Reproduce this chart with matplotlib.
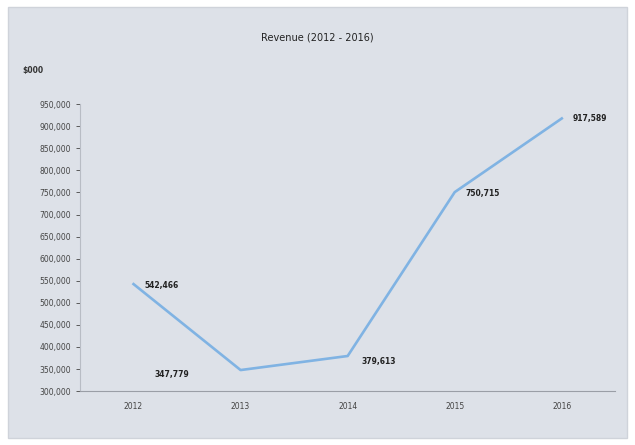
import matplotlib.pyplot as plt
from matplotlib.ticker import FuncFormatter, MultipleLocator

years = ['2012', '2013', '2014', '2015', '2016']
revenue = [542466, 347779, 379613, 750715, 917589]
value_labels = ['542,466', '347,779', '379,613', '750,715', '917,589']
# label offsets in points (dx, dy) relative to each point
offsets = [(8, -1), (-62, -3), (10, -4), (8, -1), (8, 0)]

bg = '#dde1e8'
fig = plt.figure(figsize=(6.35, 4.45), dpi=100, facecolor='white')
fig.patches.append(plt.Rectangle((0.012, 0.015), 0.976, 0.97, transform=fig.transFigure,
                                 facecolor=bg, edgecolor='#cfd3da', zorder=-10))
ax = fig.add_axes([0.126, 0.121, 0.843, 0.645])
ax.set_facecolor('none')

x = list(range(len(years)))
ax.plot(x, revenue, color='#80b3e3', lw=1.9)

for i, (lab, off) in enumerate(zip(value_labels, offsets)):
    ax.annotate(lab, (x[i], revenue[i]), xytext=off, textcoords='offset points',
                fontsize=5.5, color='#222222', va='center', fontweight='semibold')

ax.set_xlim(-0.5, 4.5)
ax.set_ylim(300000, 950000)
ax.yaxis.set_major_locator(MultipleLocator(50000))
ax.yaxis.set_major_formatter(FuncFormatter(lambda v, p: f'{int(v):,}'))
ax.set_xticks(x)
ax.set_xticklabels(years)
ax.tick_params(labelsize=5.5, colors='#444444', length=3, width=0.6)
ax.tick_params(axis='x', length=0, pad=8)

for s in ['top', 'right']:
    ax.spines[s].set_visible(False)
ax.spines['left'].set_color('#b8bcc4')
ax.spines['bottom'].set_color('#9a9ea6')

fig.text(0.5, 0.91, 'Revenue (2012 - 2016)', ha='center', fontsize=7, color='#222222')
fig.text(0.035, 0.835, '$000', ha='left', fontsize=5.5, color='#333333', fontweight='bold')

fig.savefig('out.png', dpi=100, facecolor='white')
